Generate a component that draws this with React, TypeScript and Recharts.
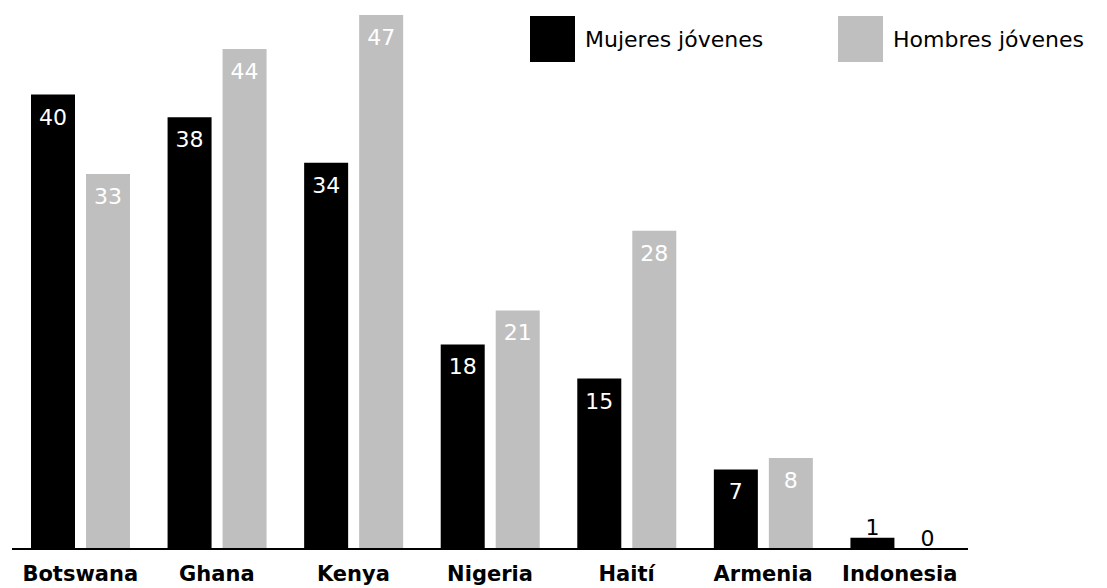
import { BarChart, Bar, XAxis, YAxis, LabelList } from 'recharts';

const countries = ['Botswana', 'Ghana', 'Kenya', 'Nigeria', 'Haití', 'Armenia', 'Indonesia'];
const mujeres = [40, 38, 34, 18, 15, 7, 1];
const hombres = [33, 44, 47, 21, 28, 8, 0];

const BLACK = '#000000';
const GRAY = '#bfbfbf';
const FONT = '"DejaVu Sans", sans-serif';

const data = countries.map((country, i) => ({
  country,
  mujeres: mujeres[i],
  hombres: hombres[i],
}));

function ValueLabel(props: any) {
  const { x, y, width, height, value } = props;
  const cx = Number(x) + Number(width) / 2;
  const small = Number(value) < 5;
  // top of the bar (height may be negative depending on direction)
  const top = Math.min(Number(y), Number(y) + Number(height || 0));
  return (
    <text
      x={cx}
      y={small ? top - 3 : top + 30}
      textAnchor="middle"
      fontSize={22}
      fontFamily={FONT}
      fill={small ? BLACK : '#ffffff'}
    >
      {value}
    </text>
  );
}

function LegendItem({ color, label, left }: { color: string; label: string; left: number }) {
  return (
    <div style={{ position: 'absolute', left, top: 16, display: 'flex', alignItems: 'center' }}>
      <div style={{ width: 45, height: 46, background: color }} />
      <span style={{ marginLeft: 10, fontSize: 22, fontFamily: FONT, color: BLACK }}>{label}</span>
    </div>
  );
}

export default function App() {
  return (
    <div style={{ position: 'absolute', left: 0, top: 0, width: 1107, height: 588, background: '#fff' }}>
      <BarChart
        width={1107}
        height={588}
        data={data}
        margin={{ top: 15, right: 139, bottom: 0, left: 12 }}
        barSize={44}
        barGap={11}
      >
        <XAxis
          dataKey="country"
          height={39}
          axisLine={{ stroke: BLACK, strokeWidth: 2 }}
          tickLine={false}
          tickMargin={11}
          interval={0}
          tick={{ fontSize: 21, fontWeight: 'bold', fill: BLACK, fontFamily: FONT }}
        />
        <YAxis hide domain={[0, 47]} />
        <Bar dataKey="mujeres" fill={BLACK} isAnimationActive={false}>
          <LabelList dataKey="mujeres" content={ValueLabel} />
        </Bar>
        <Bar dataKey="hombres" fill={GRAY} minPointSize={0.01} isAnimationActive={false}>
          <LabelList dataKey="hombres" content={ValueLabel} />
        </Bar>
      </BarChart>
      <LegendItem color={BLACK} label="Mujeres jóvenes" left={530} />
      <LegendItem color={GRAY} label="Hombres jóvenes" left={838} />
    </div>
  );
}
